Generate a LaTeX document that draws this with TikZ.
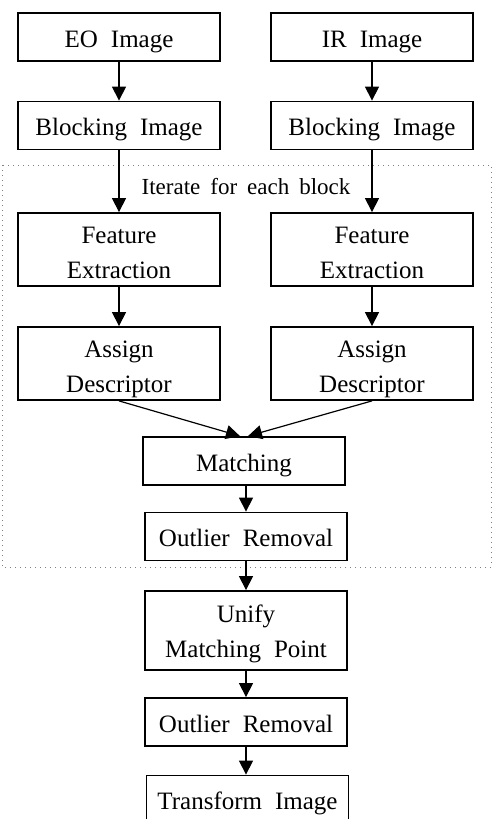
\documentclass[tikz,border=0pt]{standalone}
\usepackage{fontspec}
\setmainfont{Liberation Serif}
\usetikzlibrary{arrows.meta}

\newcommand\boxfont{\fontsize{12.5}{17.5}\selectfont\spaceskip 6.5pt\relax}
\newcommand\iterfont{\fontsize{11.5}{13}\selectfont\spaceskip 5pt\relax}

\tikzset{
  box/.style={draw,line width=0.9pt,minimum width=101pt,minimum height=24pt,inner sep=0pt,align=center,
    font=\boxfont,text height=12.5pt,text depth=2.5pt},
  tallbox/.style={box,minimum height=36.5pt,text height=31pt},
  flow/.style={->,>={Triangle[length=7pt,width=7pt]},line width=0.6pt}
}

\begin{document}
\begin{tikzpicture}[x=0.5pt,y=-0.5pt]
\useasboundingbox (0,0) rectangle (494,819);
% loop frame
\draw [gray,dotted,line width=0.5pt] (2,165) rectangle (491,567);
\node (iter) at (246,187) [font=\iterfont] {Iterate for each block};

% left column (EO)
\node [box] (eo) at (119,37) {EO Image};
\node [box] (blkeo) at (119,125.5) {Blocking Image};
\node [tallbox] (feateo) at (119,249.5) {Feature\\Extraction};
\node [tallbox] (desceo) at (119,363.5) {Assign\\Descriptor};
% right column (IR)
\node [box] (ir) at (372,37) {IR Image};
\node [box] (blkir) at (372,125.5) {Blocking Image};
\node [tallbox] (featir) at (372,249.5) {Feature\\Extraction};
\node [tallbox] (descir) at (372,363.5) {Assign\\Descriptor};
% merged part
\node [box] (match) at (244,461) {Matching};
\node [box] (outlier) at (246,536.5) {Outlier Removal};
\node [tallbox,minimum height=39.5pt,text height=29pt] (unify) at (246,630.5) {Unify\\Matching Point};
\node [box] (outlierb) at (246,722) {Outlier Removal};
\node [box] (transform) at (247.5,799.5) {Transform Image};

\draw [flow] (eo) -- (blkeo);
\draw [flow] (blkeo) -- (feateo);
\draw [flow] (feateo) -- (desceo);
\draw [flow] (ir) -- (blkir);
\draw [flow] (blkir) -- (featir);
\draw [flow] (featir) -- (descir);
\draw [flow] (desceo.south) -- ([xshift=-2pt]match.north);
\draw [flow] (descir.south) -- ([xshift=2pt]match.north);
\draw [flow] (match.south -| outlier.north) -- (outlier);
\draw [flow] (outlier) -- (unify);
\draw [flow] (unify) -- (outlierb);
\draw [flow] (outlierb) -- (transform.north -| outlierb.south);
\end{tikzpicture}
\end{document}
